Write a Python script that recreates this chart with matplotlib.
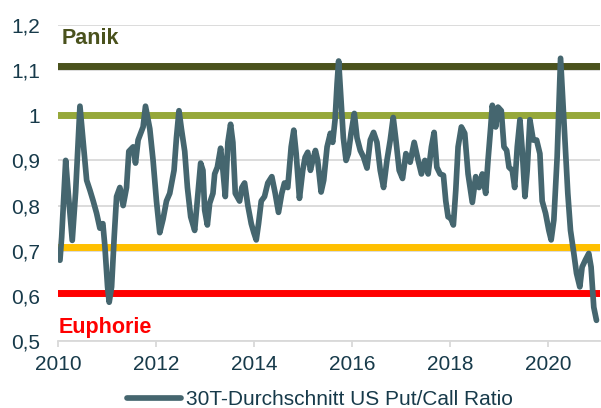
import matplotlib
matplotlib.use("Agg")
from matplotlib import pyplot as plt
from matplotlib.ticker import FuncFormatter, MultipleLocator

# 30-day average US put/call ratio (decimal years)
years = [
    2010.04, 2010.075, 2010.157, 2010.21, 2010.291, 2010.36, 2010.448, 2010.515, 2010.585, 2010.652,
    2010.719, 2010.788, 2010.855, 2010.916, 2010.957, 2011.012, 2011.045, 2011.094, 2011.147, 2011.196,
    2011.263, 2011.33, 2011.399, 2011.446, 2011.534, 2011.582, 2011.635, 2011.737, 2011.786, 2011.874,
    2011.941, 2012.01, 2012.077, 2012.145, 2012.214, 2012.281, 2012.369, 2012.418, 2012.47, 2012.519,
    2012.587, 2012.642, 2012.709, 2012.79, 2012.857, 2012.912, 2012.959, 2012.994, 2013.049, 2013.096,
    2013.163, 2013.198, 2013.253, 2013.32, 2013.367, 2013.415, 2013.468, 2013.523, 2013.57, 2013.619,
    2013.707, 2013.754, 2013.809, 2013.876, 2013.945, 2013.998, 2014.047, 2014.094, 2014.149, 2014.216,
    2014.283, 2014.365, 2014.434, 2014.501, 2014.568, 2014.623, 2014.69, 2014.76, 2014.813, 2014.862,
    2014.929, 2014.996, 2015.045, 2015.098, 2015.153, 2015.2, 2015.255, 2015.301, 2015.371, 2015.424,
    2015.493, 2015.56, 2015.607, 2015.656, 2015.697, 2015.729, 2015.778, 2015.825, 2015.88, 2015.927,
    2015.982, 2016.049, 2016.104, 2016.171, 2016.238, 2016.308, 2016.375, 2016.442, 2016.511, 2016.578,
    2016.646, 2016.715, 2016.782, 2016.843, 2016.898, 2016.965, 2017.033, 2017.102, 2017.189, 2017.271,
    2017.352, 2017.419, 2017.489, 2017.556, 2017.623, 2017.678, 2017.733, 2017.8, 2017.868, 2017.916,
    2017.963, 2018.018, 2018.071, 2018.12, 2018.167, 2018.234, 2018.303, 2018.371, 2018.458, 2018.527,
    2018.595, 2018.662, 2018.731, 2018.778, 2018.833, 2018.866, 2018.935, 2018.982, 2019.049, 2019.104,
    2019.159, 2019.206, 2019.273, 2019.322, 2019.375, 2019.43, 2019.477, 2019.532, 2019.578, 2019.633,
    2019.701, 2019.77, 2019.837, 2019.884, 2019.953, 2020.02, 2020.067, 2020.122, 2020.189, 2020.224,
    2020.259, 2020.312, 2020.361, 2020.407, 2020.462, 2020.53, 2020.585, 2020.652, 2020.699, 2020.768,
    2020.835, 2020.882, 2020.937, 2020.992,
]
ratio = [
    0.679, 0.73, 0.90, 0.827, 0.723, 0.83, 1.02, 0.94, 0.856, 0.834,
    0.81, 0.783, 0.75, 0.76, 0.71, 0.62, 0.586, 0.62, 0.73, 0.82,
    0.84, 0.80, 0.84, 0.92, 0.93, 0.894, 0.945, 0.974, 1.02, 0.97,
    0.90, 0.81, 0.74, 0.77, 0.81, 0.827, 0.878, 0.95, 1.01, 0.97,
    0.92, 0.84, 0.775, 0.745, 0.827, 0.894, 0.878, 0.79, 0.757, 0.805,
    0.827, 0.87, 0.885, 0.927, 0.878, 0.82, 0.94, 0.98, 0.94, 0.827,
    0.81, 0.84, 0.85, 0.80, 0.76, 0.74, 0.724, 0.76, 0.81, 0.82,
    0.85, 0.864, 0.827, 0.785, 0.827, 0.85, 0.84, 0.93, 0.967, 0.915,
    0.816, 0.878, 0.907, 0.918, 0.878, 0.90, 0.922, 0.90, 0.83, 0.856,
    0.93, 0.96, 0.94, 0.99, 1.07, 1.12, 1.033, 0.95, 0.90, 0.915,
    0.96, 1.004, 0.95, 0.922, 0.907, 0.883, 0.945, 0.962, 0.94, 0.878,
    0.84, 0.90, 0.945, 0.995, 0.945, 0.878, 0.86, 0.915, 0.896, 0.94,
    0.90, 0.87, 0.90, 0.87, 0.93, 0.962, 0.885, 0.87, 0.867, 0.81,
    0.775, 0.772, 0.757, 0.834, 0.93, 0.974, 0.96, 0.87, 0.807, 0.864,
    0.84, 0.87, 0.827, 0.90, 0.974, 1.022, 0.974, 1.018, 1.01, 0.93,
    0.922, 0.885, 0.878, 0.84, 0.93, 0.99, 0.922, 0.82, 0.878, 0.99,
    0.945, 0.945, 0.915, 0.81, 0.783, 0.745, 0.724, 0.768, 0.907, 1.018,
    1.126, 1.018, 0.922, 0.827, 0.745, 0.694, 0.65, 0.62, 0.664, 0.68,
    0.694, 0.664, 0.575, 0.546,
]

panic_level = 1.108
upper_level = 1.0
lower_level = 0.709
euphoria_level = 0.606

text_col = "#173a4a"
line_col = "#45666f"

plt.rcParams["font.family"] = ["Liberation Sans", "DejaVu Sans"]

fig = plt.figure(figsize=(6.01, 4.08), dpi=100)
ax = fig.add_axes([0.0965, 0.164, 0.9015, 0.775])

ax.axhline(panic_level, color="#4a521d", lw=5.0, zorder=2)
ax.axhline(upper_level, color="#96a83a", lw=5.0, zorder=2)
ax.axhline(lower_level, color="#ffc000", lw=5.0, zorder=2)
ax.axhline(euphoria_level, color="#ff0000", lw=5.0, zorder=2)

ax.plot(years, ratio, color=line_col, lw=4.1, solid_capstyle="round",
        solid_joinstyle="round", zorder=3, label="30T-Durchschnitt US Put/Call Ratio")

ax.text(2010.07, 1.17, "Panik", fontsize=15.5,
        fontweight="bold", color="#4a521d", va="center", ha="left")
ax.text(2010.02, 0.531, "Euphorie", fontsize=15.5,
        fontweight="bold", color="#ff0000", va="center", ha="left")

ax.set_ylim(0.5, 1.2)
ax.set_xlim(2010, 2021.06)
ax.yaxis.set_major_locator(MultipleLocator(0.1))
ax.xaxis.set_major_locator(MultipleLocator(2))
ax.yaxis.set_major_formatter(FuncFormatter(lambda v, p: f"{v:.1f}".rstrip("0").rstrip(".").replace(".", ",")))
ax.xaxis.set_major_formatter(FuncFormatter(lambda v, p: f"{int(round(v))}"))

ax.grid(axis="y", color="#d9d9d9", lw=1.3, zorder=1)
for s in ["top", "right", "left"]:
    ax.spines[s].set_visible(False)
ax.spines["bottom"].set_color("#d9d9d9")
ax.spines["bottom"].set_linewidth(1.3)

ax.tick_params(axis="y", length=0, pad=13, labelsize=15, labelcolor=text_col)
ax.tick_params(axis="x", length=4, width=1.3, color="#d9d9d9", pad=6,
               labelsize=15, labelcolor=text_col)

leg = fig.legend(loc="center", bbox_to_anchor=(0.532, 0.02), frameon=False,
                 fontsize=15, handlelength=2.6, handletextpad=0.25)
for t in leg.get_texts():
    t.set_color(text_col)

fig.savefig("out.png", dpi=100)
